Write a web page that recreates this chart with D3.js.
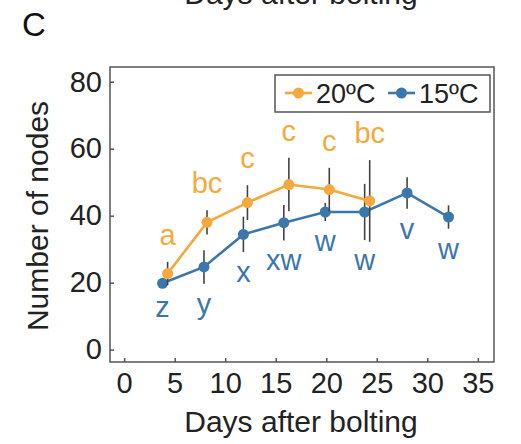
<!DOCTYPE html>
<html lang="en">
  <head>
    <meta charset="UTF-8" />
    <title>Number of nodes</title>
    <style>
      body { margin: 0; background: #fff; }
      svg text { font-family: 'Liberation Sans', Arial, sans-serif; }
      .axis text { font-size: 29px; fill: #222; }
      .axis line { stroke: #555; stroke-width: 1.5; }
    </style>
    <script src="https://d3js.org/d3.v7.min.js"></script>
  </head>
  <body>
    <svg width="521" height="444"></svg>
    <script>
      // values
      var days20 = [4.3, 8.2, 12.2, 16.3, 20.3, 24.3]
      var mean20 = [22.7, 38.0, 43.9, 49.3, 47.8, 44.4]
      var err20 = [3.5, 3.6, 5.2, 8.0, 6.5, 12.2]
      var letters20 = ['a', 'bc', 'c', 'c', 'c', 'bc']

      var days15 = [3.8, 7.9, 11.8, 15.8, 19.9, 23.8, 28.0, 32.1]
      var mean15 = [19.8, 24.7, 34.4, 37.9, 41.1, 41.1, 46.8, 39.6]
      var err15 = [1.0, 5.0, 5.3, 5.3, 2.7, 8.4, 4.7, 3.5]
      var letters15 = ['z', 'y', 'x', 'xw', 'w', 'w', 'v', 'w']

      var xTicks = [0, 5, 10, 15, 20, 25, 30, 35]
      var yTicks = [0, 20, 40, 60, 80]

      var orange = '#f5a93c'
      var blue = '#3b77ab'

      var frame = { left: 110, right: 494, top: 67, bottom: 362 }

      var x = d3.scaleLinear().domain([-1.4, 36.6]).range([frame.left, frame.right])
      var y = d3.scaleLinear().domain([-3.7, 84.4]).range([frame.bottom, frame.top])

      var svg = d3.select('svg')

      // cut-off title of the panel above (only its lower edge shows)
      svg.append('text')
        .attr('x', 301).attr('y', 4)
        .attr('text-anchor', 'middle')
        .attr('font-size', 30).attr('fill', '#222')
        .text('Days after bolting')

      svg.append('text')
        .attr('x', 22).attr('y', 36)
        .attr('font-size', 33).attr('fill', '#111')
        .text('C')

      // axes, ticks pointing inward
      svg.append('g')
        .attr('class', 'axis')
        .attr('transform', `translate(0, ${frame.bottom})`)
        .call(d3.axisBottom(x).tickValues(xTicks).tickSize(-4).tickPadding(10))
        .call(g => g.select('.domain').remove())

      svg.append('g')
        .attr('class', 'axis')
        .attr('transform', `translate(${frame.left}, 0)`)
        .call(d3.axisLeft(y).tickValues(yTicks).tickSize(-4).tickPadding(8))
        .call(g => g.select('.domain').remove())

      svg.append('rect')
        .attr('x', frame.left).attr('y', frame.top)
        .attr('width', frame.right - frame.left)
        .attr('height', frame.bottom - frame.top)
        .attr('fill', 'none')
        .attr('stroke', '#555').attr('stroke-width', 1.5)

      svg.append('text')
        .attr('x', 301).attr('y', 432)
        .attr('text-anchor', 'middle')
        .attr('font-size', 30).attr('fill', '#222')
        .text('Days after bolting')

      svg.append('text')
        .attr('transform', 'translate(48, 216) rotate(-90)')
        .attr('text-anchor', 'middle')
        .attr('font-size', 30).attr('fill', '#222')
        .text('Number of nodes')

      function drawSeries(days, means, errs, color) {
        var pts = days.map(function(d, i) {
          return { d: d, m: means[i], e: errs[i] }
        })
        var g = svg.append('g')
        g.selectAll('line.err')
          .data(pts)
          .enter()
          .append('line')
          .attr('class', 'err')
          .attr('x1', p => x(p.d)).attr('x2', p => x(p.d))
          .attr('y1', p => y(p.m - p.e)).attr('y2', p => y(p.m + p.e))
          .attr('stroke', '#444').attr('stroke-width', 1.6)
        g.append('path')
          .datum(pts)
          .attr('fill', 'none')
          .attr('stroke', color).attr('stroke-width', 2.6)
          .attr('d', d3.line().x(p => x(p.d)).y(p => y(p.m)))
        g.selectAll('circle')
          .data(pts)
          .enter()
          .append('circle')
          .attr('cx', p => x(p.d)).attr('cy', p => y(p.m))
          .attr('r', 5.5)
          .attr('fill', color)
      }

      drawSeries(days15, mean15, err15, blue)
      drawSeries(days20, mean20, err20, orange)

      // significance letters: above 20ºC bars, below 15ºC bars
      svg.append('g').selectAll('text')
        .data(letters20)
        .enter()
        .append('text')
        .attr('x', (d, i) => x(days20[i]))
        .attr('y', (d, i) => y(mean20[i] + err20[i]) - 17)
        .attr('text-anchor', 'middle')
        .attr('font-size', 29).attr('fill', orange)
        .text(d => d)

      svg.append('g').selectAll('text')
        .data(letters15)
        .enter()
        .append('text')
        .attr('x', (d, i) => x(days15[i]))
        .attr('y', (d, i) => y(mean15[i] - err15[i]) + 30)
        .attr('text-anchor', 'middle')
        .attr('font-size', 29).attr('fill', blue)
        .text(d => d)

      // legend
      var legend = svg.append('g')
      legend.append('rect')
        .attr('x', 275).attr('y', 75)
        .attr('width', 215).attr('height', 37)
        .attr('fill', '#fff')
        .attr('stroke', '#555').attr('stroke-width', 1.5)

      var legendItems = [
        { label: '20ºC', color: orange, x0: 285 },
        { label: '15ºC', color: blue, x0: 388 }
      ]
      legendItems.forEach(function(it) {
        legend.append('line')
          .attr('x1', it.x0).attr('x2', it.x0 + 27)
          .attr('y1', 93).attr('y2', 93)
          .attr('stroke', it.color).attr('stroke-width', 2.6)
        legend.append('circle')
          .attr('cx', it.x0 + 13.5).attr('cy', 93).attr('r', 5.5)
          .attr('fill', it.color)
        legend.append('text')
          .attr('x', it.x0 + 31).attr('y', 103)
          .attr('font-size', 27).attr('fill', '#222')
          .text(it.label)
      })
    </script>
  </body>
</html>
